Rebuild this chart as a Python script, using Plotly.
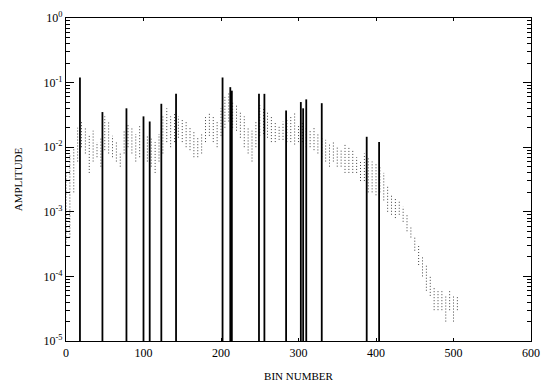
import plotly.graph_objects as go

# ---- data ----
spike_bins = [18, 47, 78, 100, 108, 123, 142, 202, 212, 214, 249, 256, 284, 303, 306, 310, 330, 388, 404]
spike_amp = [0.12, 0.035, 0.04, 0.03, 0.025, 0.047, 0.067, 0.12, 0.085, 0.075, 0.067, 0.067, 0.037,
             0.05, 0.04, 0.055, 0.048, 0.0145, 0.012]

noise_bins = list(range(0, 510, 5))
noise_hi = [0.004, 0.008, 0.010, 0.020, 0.025, 0.020, 0.015, 0.018, 0.012, 0.014,
            0.030, 0.025, 0.015, 0.012, 0.008, 0.018, 0.022, 0.020, 0.016, 0.022,
            0.018, 0.015, 0.014, 0.012, 0.016, 0.030, 0.040, 0.030, 0.035, 0.030,
            0.028, 0.025, 0.020, 0.018, 0.014, 0.016, 0.030, 0.035, 0.030, 0.025,
            0.040, 0.060, 0.070, 0.050, 0.045, 0.035, 0.030, 0.020, 0.018, 0.025,
            0.045, 0.040, 0.035, 0.030, 0.025, 0.022, 0.025, 0.028, 0.030, 0.035,
            0.022, 0.025, 0.020, 0.018, 0.020, 0.016, 0.014, 0.013, 0.011, 0.012,
            0.010, 0.009, 0.011, 0.010, 0.009, 0.007, 0.006, 0.008, 0.007, 0.006,
            0.0055, 0.005, 0.004, 0.0025, 0.0018, 0.0016, 0.0015, 0.0012, 0.0009, 0.0006,
            0.0004, 0.0003, 0.0002, 0.00015, 0.0001, 0.00007, 0.00006, 0.00006, 0.00005, 0.00006,
            0.00005, 0.00005]
noise_lo = [0.0003, 0.0004, 0.002, 0.006, 0.010, 0.008, 0.004, 0.006, 0.007, 0.005,
            0.009, 0.008, 0.007, 0.006, 0.005, 0.008, 0.010, 0.008, 0.006, 0.007,
            0.005, 0.006, 0.005, 0.004, 0.006, 0.008, 0.012, 0.010, 0.012, 0.014,
            0.012, 0.010, 0.009, 0.007, 0.007, 0.008, 0.012, 0.015, 0.012, 0.010,
            0.015, 0.020, 0.025, 0.020, 0.018, 0.014, 0.010, 0.008, 0.006, 0.010,
            0.015, 0.016, 0.014, 0.012, 0.012, 0.013, 0.013, 0.012, 0.012, 0.011,
            0.012, 0.012, 0.010, 0.010, 0.009, 0.008, 0.007, 0.006, 0.005, 0.006,
            0.005, 0.005, 0.004, 0.004, 0.004, 0.004, 0.003, 0.003, 0.002, 0.002,
            0.0018, 0.002, 0.0015, 0.001, 0.0009, 0.0008, 0.0009, 0.0007, 0.0005, 0.0004,
            0.00025, 0.00015, 0.0001, 0.00006, 0.00005, 0.00003, 0.00003, 0.00003, 0.00002, 0.00003,
            0.00002, 0.00003]

x_ticks = [0, 100, 200, 300, 400, 500, 600]
y_tickvals = [1e-5, 1e-4, 1e-3, 1e-2, 1e-1, 1]
y_ticktext = ["10<sup>-5</sup>", "10<sup>-4</sup>", "10<sup>-3</sup>", "10<sup>-2</sup>",
              "10<sup>-1</sup>", "10<sup>0</sup>"]
y_floor = 1e-5

# ---- build traces ----
nx, ny = [], []
for b, lo, hi in zip(noise_bins, noise_lo, noise_hi):
    nx += [b, b, None]
    ny += [lo, hi, None]

sx, sy = [], []
for b, a in zip(spike_bins, spike_amp):
    sx += [b, b, None]
    sy += [y_floor, a, None]

fig = go.Figure()
fig.add_trace(go.Scatter(x=nx, y=ny, mode="lines",
                         line=dict(color="#444444", width=1, dash="1px,2px"),
                         hoverinfo="skip", showlegend=False))
fig.add_trace(go.Scatter(x=sx, y=sy, mode="lines",
                         line=dict(color="black", width=1.8),
                         hoverinfo="skip", showlegend=False))

minor_vals = [m * 10 ** e for e in range(-5, 0) for m in range(2, 10)]

font_family = "Liberation Serif, Times New Roman, serif"
fig.update_layout(
    width=533, height=374,
    margin=dict(l=58, r=10, t=10, b=41),
    paper_bgcolor="white", plot_bgcolor="white",
    font=dict(family=font_family, size=12, color="black"),
    xaxis=dict(range=[0, 600], tickvals=x_ticks, showgrid=False, zeroline=False,
               automargin=False, ticklabeloverflow="allow",
               showline=True, linecolor="black", linewidth=1.3, mirror="ticks",
               ticks="inside", ticklen=3, tickcolor="black",
               title=dict(text="BIN NUMBER", font=dict(size=11), standoff=18),
               tickfont=dict(size=12)),
    yaxis=dict(type="log", range=[-5, 0], tickvals=y_tickvals, ticktext=y_ticktext,
               showgrid=False, zeroline=False, automargin=False, ticklabeloverflow="allow",
               showline=True, linecolor="black", linewidth=1.3, mirror="ticks",
               ticks="inside", ticklen=8, tickcolor="black",
               minor=dict(ticks="inside", ticklen=4, tickvals=minor_vals, tickcolor="black", showgrid=False),
               title=dict(text="AMPLITUDE", font=dict(size=11), standoff=18),
               tickfont=dict(size=12)),
)

fig.write_html("out.html")
